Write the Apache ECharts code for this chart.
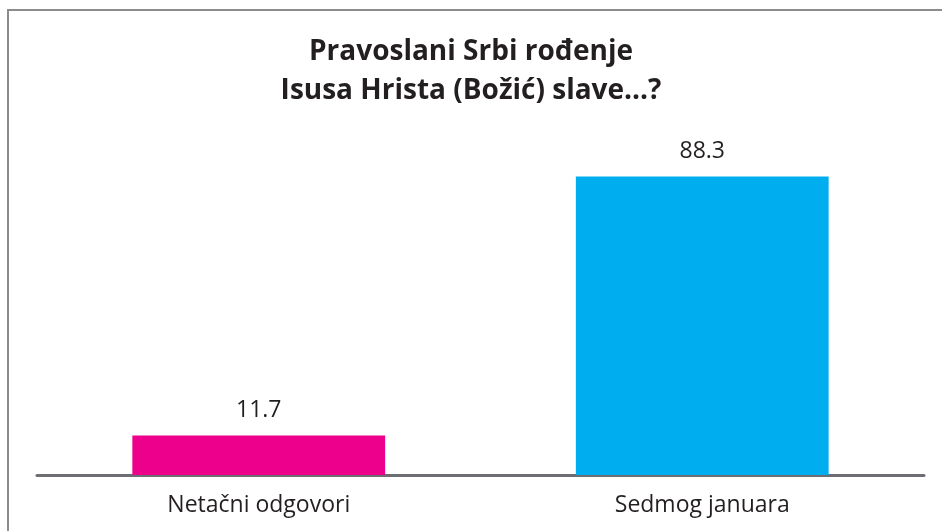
<!DOCTYPE html>
<html>
<head>
<meta charset="utf-8">
<script src="https://cdn.jsdelivr.net/npm/echarts@6/dist/echarts.min.js"></script>
<style>
  html, body { margin: 0; padding: 0; background: #fff; }
  #frame {
    position: absolute; left: 7px; top: 9px; width: 940px; height: 530px;
    border-left: 2px solid #8c8c8c; border-top: 2px solid #8c8c8c;
  }
  #chart { position: absolute; left: 0; top: 0; width: 942px; height: 531px; }
</style>
</head>
<body>
<div id="frame"></div>
<div id="chart"></div>
<script>
  var categories = ['Netačni odgovori', 'Sedmog januara'];
  var values = [11.7, 88.3];
  var barColors = ['#ec008c', '#00aeef'];
  var titleText = 'Pravoslani Srbi rođenje\nIsusa Hrista (Božić) slave...?';

  var chart = echarts.init(document.getElementById('chart'));

  var option = {
    animation: false,
    title: {
      text: titleText,
      left: 'center',
      top: 28,
      textStyle: {
        fontFamily: 'Open Sans',
        fontWeight: 'bold',
        fontSize: 28,
        lineHeight: 39,
        color: '#231f20'
      }
    },
    grid: {
      left: 37,
      right: 18,
      top: 137,
      bottom: 56
    },
    xAxis: {
      type: 'category',
      data: categories,
      axisLine: {
        lineStyle: { color: '#6d6e71', width: 3 }
      },
      axisTick: { show: false },
      axisLabel: {
        margin: 19,
        fontFamily: 'Open Sans',
        fontSize: 23,
        color: '#231f20'
      }
    },
    yAxis: {
      type: 'value',
      min: 0,
      max: 100,
      show: false,
      splitLine: { show: false }
    },
    series: [{
      type: 'bar',
      barWidth: '57%',
      data: values.map(function (v, i) {
        return { value: v, itemStyle: { color: barColors[i] } };
      }),
      label: {
        show: true,
        position: 'top',
        distance: 14,
        fontFamily: 'Open Sans',
        fontSize: 23,
        color: '#231f20'
      }
    }]
  };

  chart.setOption(option);
</script>
</body>
</html>
